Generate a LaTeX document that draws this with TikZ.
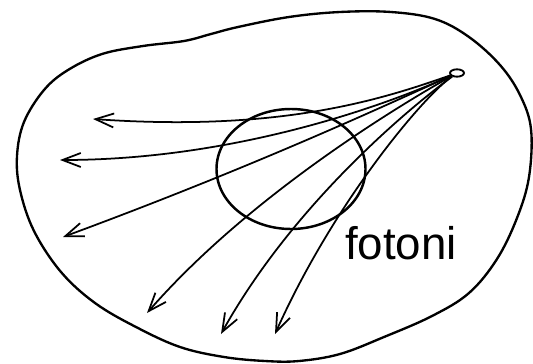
\documentclass[tikz,border=0pt]{standalone}
\usepackage{fontspec}
\setmainfont{Liberation Sans}
\usetikzlibrary{arrows.meta,shapes.geometric}

\begin{document}
\begin{tikzpicture}[x=0.03cm, y=-0.03cm,
  bordo/.style={line width=2pt, line join=round},
  sfera/.style={draw, ellipse, line width=2.1pt, minimum width=4.47cm, minimum height=3.6cm, inner sep=0pt},
  fonte/.style={draw, ellipse, line width=1.6pt, minimum width=0.42cm, minimum height=0.22cm, inner sep=0pt},
  fotone/.style={-{Straight Barb[length=5.5mm, width=4.2mm]}, line width=1.5pt},
  etichetta/.style={font=\fontsize{39}{40}\selectfont, anchor=base}]
\useasboundingbox (0,0) rectangle (533,363);
\draw[bordo] plot[smooth cycle, tension=0.6] coordinates {
  (44,90) (68,70) (102,54) (143,46) (184,41) (211,34) (238,27) (289,17) (340,12) (391,12)
  (435,19) (469,37) (500,65) (520,95) (531,129) (529,177) (517,218) (497,259) (469,293)
  (432,316) (384,337) (340,354) (299,361) (265,361) (224,357) (180,347) (136,327) (95,303)
  (61,272) (34,231) (20,190) (17,156) (24,122)};
\node[sfera] (nucleo) at (291,169) {};
\node[fonte] (sorg) at (457,73) {};
\coordinate (f1) at (93,119);
\coordinate (f2) at (60,160);
\coordinate (f3) at (63,237);
\coordinate (f4) at (147,313);
\coordinate (f5) at (221,334);
\coordinate (f6) at (275,334);
\draw[fotone] (sorg) .. controls (380,100) and (280,132) .. (f1);
\draw[fotone] (sorg) .. controls (380,108) and (230,160) .. (f2);
\draw[fotone] (sorg) .. controls (380,108) and (250,168) .. (f3);
\draw[fotone] (sorg) .. controls (400,105) and (250,195) .. (f4);
\draw[fotone] (sorg) .. controls (400,115) and (290,210) .. (f5);
\draw[fotone] (sorg) .. controls (425,95) and (335,200) .. (f6);
\node[etichetta] (fotoni) at (401,259) {fotoni};
\end{tikzpicture}
\end{document}
